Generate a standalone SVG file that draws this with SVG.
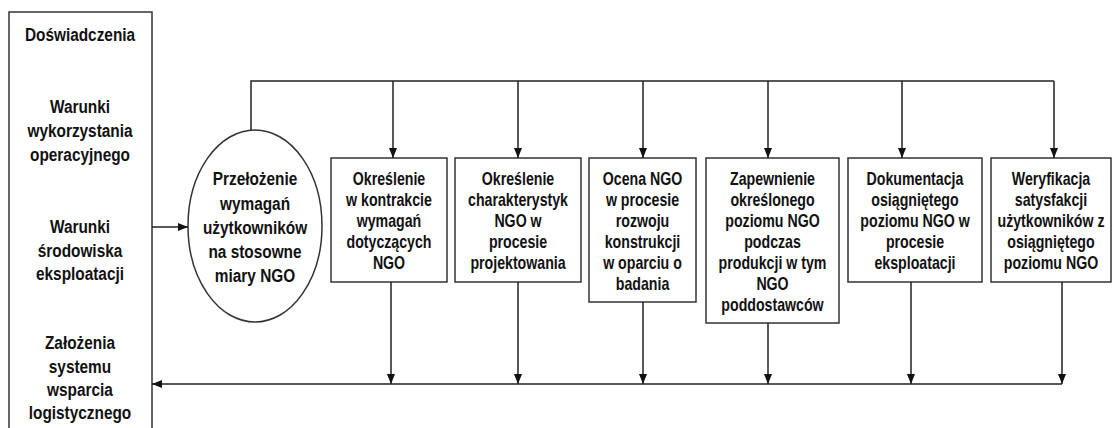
<svg xmlns="http://www.w3.org/2000/svg" width="1114" height="428" viewBox="0 0 1114 428">
<defs>
<marker id="ah" viewBox="0 0 10 8" refX="10" refY="4" markerWidth="10" markerHeight="8" orient="auto" markerUnits="userSpaceOnUse"><path d="M0,0 L10,4 L0,8 z" fill="#111"/></marker>
<style>
.shape{fill:#fff;stroke:#333;stroke-width:1.5}
.con{fill:none;stroke:#222;stroke-width:1.5}
.arr{fill:none;stroke:#222;stroke-width:1.5;marker-end:url(#ah)}
text{font-family:"Liberation Sans",Arial,sans-serif;font-weight:bold;fill:#111;text-anchor:middle}
.big{font-size:19px}
.sm{font-size:17.5px}
</style>
</defs>
<rect width="1114" height="428" fill="#fff"/>
<g id="left">
<rect class="shape" x="9" y="12" width="143" height="430"/>
<g transform="translate(80 0) scale(0.81 1)">
<text class="big" x="0" y="41">Doświadczenia</text>
<text class="big" x="0" y="113">Warunki</text>
<text class="big" x="0" y="137">wykorzystania</text>
<text class="big" x="0" y="161">operacyjnego</text>
<text class="big" x="0" y="233">Warunki</text>
<text class="big" x="0" y="257">środowiska</text>
<text class="big" x="0" y="280">eksploatacji</text>
<text class="big" x="0" y="349">Założenia</text>
<text class="big" x="0" y="373">systemu</text>
<text class="big" x="0" y="396">wsparcia</text>
<text class="big" x="0" y="419">logistycznego</text>
</g>
</g>
<g id="ellipse">
<ellipse class="shape" cx="255" cy="226" rx="67" ry="96"/>
<g transform="translate(255 0) scale(0.81 1)">
<text class="big" x="0" y="185">Przełożenie</text>
<text class="big" x="0" y="210">wymagań</text>
<text class="big" x="0" y="234">użytkowników</text>
<text class="big" x="0" y="258">na stosowne</text>
<text class="big" x="0" y="282">miary NGO</text>
</g>
</g>
<g id="box1">
<rect class="shape" x="331" y="158" width="116" height="124"/>
<g transform="translate(389 0) scale(0.81 1)">
<text class="sm" x="0" y="185">Określenie</text>
<text class="sm" x="0" y="206">w kontrakcie</text>
<text class="sm" x="0" y="227">wymagań</text>
<text class="sm" x="0" y="248">dotyczących</text>
<text class="sm" x="0" y="269">NGO</text>
</g>
</g>
<g id="box2">
<rect class="shape" x="455" y="158" width="126" height="124"/>
<g transform="translate(518 0) scale(0.81 1)">
<text class="sm" x="0" y="185">Określenie</text>
<text class="sm" x="0" y="206">charakterystyk</text>
<text class="sm" x="0" y="227">NGO w</text>
<text class="sm" x="0" y="248">procesie</text>
<text class="sm" x="0" y="269">projektowania</text>
</g>
</g>
<g id="box3">
<rect class="shape" x="589" y="158" width="107" height="144"/>
<g transform="translate(642.5 0) scale(0.81 1)">
<text class="sm" x="0" y="185">Ocena NGO</text>
<text class="sm" x="0" y="206">w procesie</text>
<text class="sm" x="0" y="227">rozwoju</text>
<text class="sm" x="0" y="248">konstrukcji</text>
<text class="sm" x="0" y="269">w oparciu o</text>
<text class="sm" x="0" y="290">badania</text>
</g>
</g>
<g id="box4">
<rect class="shape" x="706" y="158" width="133" height="165"/>
<g transform="translate(772.5 0) scale(0.81 1)">
<text class="sm" x="0" y="185">Zapewnienie</text>
<text class="sm" x="0" y="206">określonego</text>
<text class="sm" x="0" y="227">poziomu NGO</text>
<text class="sm" x="0" y="248">podczas</text>
<text class="sm" x="0" y="269">produkcji w tym</text>
<text class="sm" x="0" y="290">NGO</text>
<text class="sm" x="0" y="311">poddostawców</text>
</g>
</g>
<g id="box5">
<rect class="shape" x="848" y="158" width="134" height="124"/>
<g transform="translate(915 0) scale(0.81 1)">
<text class="sm" x="0" y="185">Dokumentacja</text>
<text class="sm" x="0" y="206">osiągniętego</text>
<text class="sm" x="0" y="227">poziomu NGO w</text>
<text class="sm" x="0" y="248">procesie</text>
<text class="sm" x="0" y="269">eksploatacji</text>
</g>
</g>
<g id="box6">
<rect class="shape" x="991" y="158" width="120" height="124"/>
<g transform="translate(1051 0) scale(0.81 1)">
<text class="sm" x="0" y="185">Weryfikacja</text>
<text class="sm" x="0" y="206">satysfakcji</text>
<text class="sm" x="0" y="227">użytkowników z</text>
<text class="sm" x="0" y="248">osiągniętego</text>
<text class="sm" x="0" y="269">poziomu NGO</text>
</g>
</g>
<g id="connectors">
<path class="con" d="M251,130 V81 H1054"/>
<path class="arr" d="M393,81 V158"/>
<path class="arr" d="M518,81 V158"/>
<path class="arr" d="M643,81 V158"/>
<path class="arr" d="M768,81 V158"/>
<path class="arr" d="M902,81 V158"/>
<path class="arr" d="M1054,81 V158"/>
<path class="arr" d="M391,282 V384"/>
<path class="arr" d="M518,282 V384"/>
<path class="arr" d="M643,302 V384"/>
<path class="arr" d="M768,323 V384"/>
<path class="arr" d="M911,282 V384"/>
<path class="arr" d="M1062,282 V384"/>
<path class="arr" d="M1062,384 H152"/>
<path class="arr" d="M152,227 H188"/>
</g>
</svg>
